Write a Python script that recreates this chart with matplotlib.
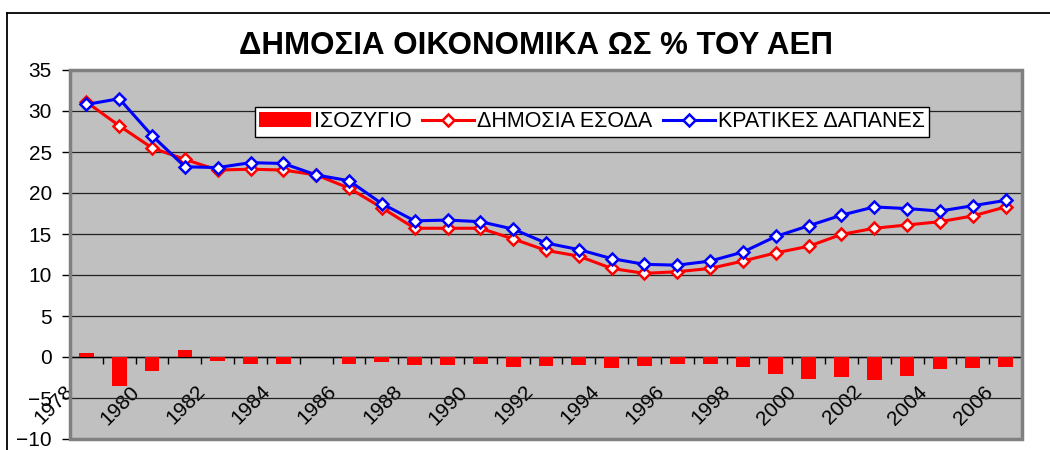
import matplotlib.pyplot as plt
from matplotlib.lines import Line2D
from matplotlib.patches import Rectangle
import numpy as np

plt.rcParams['font.family'] = ['Liberation Sans', 'DejaVu Sans']

years = list(range(1978, 2007))
isozygio = [0.5, -3.5, -1.7, 0.9, -0.5, -0.85, -0.9, 0.0, -0.9, -0.65, -1.0, -1.0, -0.9, -1.2,
            -1.05, -0.95, -1.3, -1.05, -0.9, -0.8, -1.2, -2.1, -2.65, -2.4, -2.8, -2.3, -1.45, -1.4, -1.2]
esoda = [31.1, 28.2, 25.5, 24.1, 22.8, 22.9, 22.8, 22.2, 20.6, 18.2,
         15.7, 15.7, 15.7, 14.4, 13.0, 12.3, 10.8, 10.2, 10.4,
         10.8, 11.7, 12.7, 13.5, 14.95, 15.7, 16.1, 16.5, 17.2, 18.3]
dapanes = [30.8, 31.5, 27.0, 23.2, 23.1, 23.7, 23.6, 22.2, 21.5, 18.7,
           16.6, 16.7, 16.5, 15.6, 13.9, 13.1, 12.0, 11.3, 11.2,
           11.7, 12.8, 14.7, 16.0, 17.3, 18.3, 18.1, 17.8, 18.45, 19.1]

x = np.arange(len(years))

fig = plt.figure(figsize=(10.5, 4.5), dpi=100)
ax = fig.add_axes([70 / 1050, 11 / 450, 952 / 1050, 369 / 450])
ax.set_facecolor('#C0C0C0')

b = ax.bar(x, isozygio, width=0.45, color='#FF0000', label='ΙΣΟΖΥΓΙΟ', zorder=3)
l1, = ax.plot(x, esoda, color='#FF0000', lw=2.2, marker='D', ms=6, mfc='white',
              mec='#FF0000', mew=1.8, label='ΔΗΜΟΣΙΑ ΕΣΟΔΑ', zorder=4)
l2, = ax.plot(x, dapanes, color='#0000FF', lw=2.2, marker='D', ms=6, mfc='white',
              mec='#0000FF', mew=1.8, label='ΚΡΑΤΙΚΕΣ ΔΑΠΑΝΕΣ', zorder=5)

ax.set_xlim(-0.5, len(years) - 0.5)
ax.set_ylim(-10, 35)
ax.set_yticks(range(-10, 36, 5))
ax.yaxis.grid(True, color='#222222', lw=0.9, zorder=1)
ax.set_axisbelow(True)
ax.tick_params(axis='y', labelsize=15, length=6, width=1, pad=7)

# category axis crosses at zero
ax.spines['bottom'].set_position(('data', 0))
ax.spines['bottom'].set_color('black')
ax.spines['bottom'].set_linewidth(1)
ax.spines['bottom'].set_zorder(2)
ax.spines['left'].set_color('#222222')
ax.spines['left'].set_linewidth(1.3)
for s in ['top', 'right']:
    ax.spines[s].set_visible(False)
ax.add_patch(Rectangle((0, 0), 1, 1, transform=ax.transAxes, fill=False,
                       edgecolor='#808080', lw=2.5, zorder=6, clip_on=False))

ax.set_xticks(x[::2] - 0.27)
ax.set_xticklabels([str(y) for y in years[::2]], rotation=45, ha='right', va='top')
ax.set_xticks(np.arange(len(years) + 1) - 0.5, minor=True)
ax.tick_params(axis='x', which='major', length=0, labelsize=15, pad=18)
ax.tick_params(axis='x', which='minor', length=5, width=1, direction='out')

ax.legend([b, l1, l2], ['ΙΣΟΖΥΓΙΟ', 'ΔΗΜΟΣΙΑ ΕΣΟΔΑ', 'ΚΡΑΤΙΚΕΣ ΔΑΠΑΝΕΣ'],
          loc='upper left', bbox_to_anchor=(0.194, 0.9), ncol=3, fontsize=15.5,
          frameon=True, fancybox=False, edgecolor='black', framealpha=1,
          borderaxespad=0, handlelength=2.4, handletextpad=0.15,
          columnspacing=0.5, borderpad=0.2)

fig.text(536 / 1050, 1 - 46 / 450, 'ΔΗΜΟΣΙΑ ΟΙΚΟΝΟΜΙΚΑ ΩΣ % ΤΟΥ ΑΕΠ', ha='center',
         va='center', fontsize=22.5, fontweight='bold')

# outer chart frame
fig.add_artist(Line2D([7 / 1050, 7 / 1050], [0, 1 - 13 / 450], color='black', lw=1.3))
fig.add_artist(Line2D([7 / 1050, 1], [1 - 13 / 450, 1 - 13 / 450], color='black', lw=1.3))

fig.savefig('out.png', dpi=100)
